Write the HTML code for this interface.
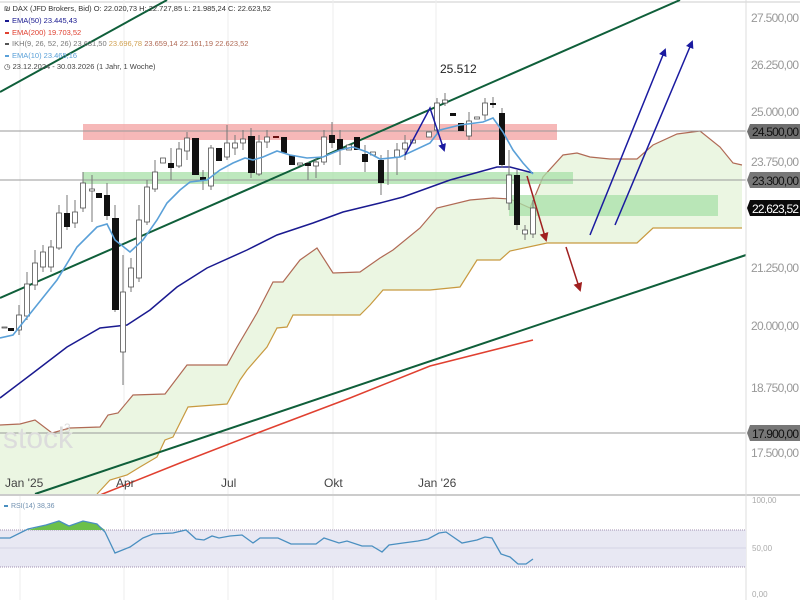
<!DOCTYPE html>
<html><head><meta charset="utf-8"><style>
html,body{margin:0;padding:0;background:#fff;}
svg{display:block;font-family:"Liberation Sans",sans-serif;}
</style></head><body>
<svg width="800" height="600" viewBox="0 0 800 600" xmlns="http://www.w3.org/2000/svg">
<defs>
<marker id="ab" markerWidth="8" markerHeight="8" refX="6" refY="4" orient="auto" markerUnits="userSpaceOnUse"><path d="M0,0 L8,4 L0,8 z" fill="#1a1aa0"/></marker>
<marker id="ar" markerWidth="9" markerHeight="9" refX="7" refY="4.5" orient="auto" markerUnits="userSpaceOnUse"><path d="M0,0 L9,4.5 L0,9 z" fill="#a02020"/></marker>
</defs>
<rect width="800" height="600" fill="#fff"/>
<line x1="0" y1="2" x2="800" y2="2" stroke="#ccc"/>
<g stroke="#eee" stroke-width="1">
<line x1="20" y1="0" x2="20" y2="600"/><line x1="124" y1="0" x2="124" y2="600"/><line x1="228" y1="0" x2="228" y2="600"/><line x1="333" y1="0" x2="333" y2="600"/><line x1="436" y1="0" x2="436" y2="600"/>
</g>
<!-- cloud -->
<path d="M0,425 L20,424 L35,420 L52,433 L70,428 L100,427 L108,415 L118,413 L133,395 L165,394 L187,365 L227,365 L237,347 L257,313 L273,282 L283,282 L300,260 L317,248 L333,273 L360,272 L380,258 L393,250 L420,228 L437,208 L470,200 L493,198 L510,199 L530,208 L543,177 L563,155 L577,153 L590,157 L610,159 L637,159 L653,145 L677,134 L700,131 L720,147 L733,163 L742,165 L742,228 L653,228 L637,243 L547,243 L510,251 L500,260 L477,260 L460,287 L430,290 L383,290 L370,305 L360,315 L293,315 L287,327 L277,328 L267,347 L247,370 L240,380 L227,404 L188,407 L173,437 L165,440 L157,457 L140,467 L127,475 L110,480 L97,494 L0,494 Z" fill="#ebf6e2"/>
<polyline fill="none" stroke="#b06a55" stroke-width="1.2" points="0,425 20,424 35,420 52,433 70,428 100,427 108,415 118,413 133,395 165,394 187,365 227,365 237,347 257,313 273,282 283,282 300,260 317,248 333,273 360,272 380,258 393,250 420,228 437,208 470,200 493,198 510,199 530,208 543,177 563,155 577,153 590,157 610,159 637,159 653,145 677,134 700,131 720,147 733,163 742,165"/>
<polyline fill="none" stroke="#c89a40" stroke-width="1.2" points="97,494 110,480 127,475 140,467 157,457 165,440 173,437 188,407 227,404 240,380 247,370 267,347 277,328 287,327 293,315 360,315 370,305 383,290 430,290 460,287 477,260 500,260 510,251 547,243 637,243 653,228 742,228"/>
<rect x="83" y="124" width="474" height="16" fill="#f4a6a6" opacity="0.8"/>
<rect x="83" y="172" width="490" height="12" fill="#a8e0a8" opacity="0.75"/>
<rect x="509" y="195" width="209" height="21" fill="#a8e0a8" opacity="0.75"/>
<g stroke="#999" stroke-width="1">
<line x1="0" y1="131" x2="746" y2="131"/><line x1="0" y1="180" x2="746" y2="180"/><line x1="0" y1="433" x2="746" y2="433"/>
</g>
<!-- watermark -->
<text x="3" y="448" font-size="30" fill="#dcdcdc">stock</text>
<text x="64" y="432" font-size="12" fill="#dcdcdc">3</text>
<g stroke="#0f5f3a" stroke-width="2">
<line x1="0" y1="92" x2="167" y2="0"/>
<line x1="0" y1="298" x2="680" y2="0"/>
<line x1="35" y1="494" x2="746" y2="255"/>
</g>
<polyline fill="none" stroke="#e04030" stroke-width="1.5" points="100,495 180,463 260,432 350,398 430,366 533,340"/>
<polyline fill="none" stroke="#1a1a90" stroke-width="1.5" points="0,398 33,373 67,347 100,328 127,325 150,310 177,287 207,268 247,250 277,235 313,223 343,212 380,203 403,197 450,180 497,167 510,167 533,173"/>
<g stroke="#777" stroke-width="1">
<line x1="19" y1="305" x2="19" y2="335"/><line x1="27" y1="272" x2="27" y2="320"/><line x1="35" y1="250" x2="35" y2="290"/><line x1="43" y1="245" x2="43" y2="272"/><line x1="51" y1="240" x2="51" y2="272"/><line x1="59" y1="205" x2="59" y2="250"/><line x1="67" y1="195" x2="67" y2="230"/><line x1="75" y1="200" x2="75" y2="228"/><line x1="83" y1="172" x2="83" y2="212"/><line x1="92" y1="175" x2="92" y2="222"/><line x1="107" y1="183" x2="107" y2="220"/><line x1="115" y1="205" x2="115" y2="312"/><line x1="123" y1="255" x2="123" y2="385"/><line x1="131" y1="258" x2="131" y2="292"/><line x1="139" y1="205" x2="139" y2="282"/><line x1="147" y1="180" x2="147" y2="225"/><line x1="155" y1="160" x2="155" y2="192"/><line x1="171" y1="148" x2="171" y2="180"/><line x1="179" y1="142" x2="179" y2="168"/><line x1="187" y1="132" x2="187" y2="160"/><line x1="203" y1="170" x2="203" y2="190"/><line x1="211" y1="145" x2="211" y2="190"/><line x1="227" y1="125" x2="227" y2="160"/><line x1="235" y1="135" x2="235" y2="155"/><line x1="243" y1="130" x2="243" y2="150"/><line x1="251" y1="128" x2="251" y2="178"/><line x1="259" y1="135" x2="259" y2="176"/><line x1="267" y1="130" x2="267" y2="148"/><line x1="308" y1="162" x2="308" y2="180"/><line x1="316" y1="158" x2="316" y2="178"/><line x1="324" y1="130" x2="324" y2="165"/><line x1="332" y1="122" x2="332" y2="148"/><line x1="340" y1="130" x2="340" y2="165"/><line x1="365" y1="145" x2="365" y2="172"/><line x1="381" y1="155" x2="381" y2="195"/><line x1="388" y1="150" x2="388" y2="185"/><line x1="397" y1="143" x2="397" y2="175"/><line x1="405" y1="135" x2="405" y2="160"/><line x1="437" y1="98" x2="437" y2="135"/><line x1="445" y1="93" x2="445" y2="106"/><line x1="469" y1="112" x2="469" y2="140"/><line x1="485" y1="98" x2="485" y2="120"/><line x1="493" y1="97" x2="493" y2="108"/><line x1="502" y1="108" x2="502" y2="168"/><line x1="509" y1="150" x2="509" y2="210"/><line x1="517" y1="170" x2="517" y2="230"/><line x1="525" y1="225" x2="525" y2="240"/><line x1="533" y1="200" x2="533" y2="238"/>
</g>
<g stroke="#555" stroke-width="0.8" fill="#fff">
<rect x="2" y="327" width="5" height="1"/>
<rect x="16.5" y="315" width="5" height="15"/><rect x="24.5" y="284" width="5" height="32"/><rect x="32.5" y="263" width="5" height="22"/><rect x="40.5" y="252" width="5" height="15"/><rect x="48.5" y="247" width="5" height="20"/><rect x="56.5" y="213" width="5" height="35"/><rect x="72.5" y="212" width="5" height="11"/><rect x="80.5" y="183" width="5" height="25"/><rect x="89.5" y="189" width="5" height="2"/><rect x="120.5" y="292" width="5" height="60"/><rect x="128.5" y="268" width="5" height="19"/><rect x="136.5" y="220" width="5" height="58"/><rect x="144.5" y="187" width="5" height="35"/><rect x="152.5" y="172" width="5" height="17"/><rect x="160.5" y="158" width="5" height="5"/><rect x="176.5" y="149" width="5" height="17"/><rect x="184.5" y="138" width="5" height="13"/><rect x="208.5" y="148" width="5" height="38"/><rect x="224.5" y="143" width="5" height="14"/><rect x="232.5" y="143" width="5" height="5"/><rect x="240.5" y="139" width="5" height="4"/><rect x="256.5" y="142" width="5" height="32"/><rect x="264.5" y="137" width="5" height="5"/><rect x="297.5" y="163" width="5" height="2"/><rect x="313.5" y="162" width="5" height="4"/><rect x="321.5" y="137" width="5" height="25"/><rect x="346.5" y="145" width="5" height="5"/><rect x="370.5" y="152" width="5" height="3"/><rect x="394.5" y="150" width="5" height="7"/><rect x="402.5" y="143" width="5" height="6"/><rect x="410.5" y="140" width="5" height="3"/><rect x="426.5" y="132" width="5" height="5"/><rect x="434.5" y="103" width="5" height="27"/><rect x="442.5" y="100" width="5" height="3"/><rect x="466.5" y="121" width="5" height="15"/><rect x="474.5" y="117" width="5" height="2"/><rect x="482.5" y="103" width="5" height="12"/><rect x="506.5" y="175" width="5" height="28"/><rect x="522.5" y="230" width="5" height="4"/><rect x="530.5" y="208" width="5" height="26"/>
</g>
<g fill="#111">
<rect x="8" y="328" width="6" height="3"/><rect x="64" y="213" width="6" height="14"/><rect x="96" y="193" width="6" height="5"/><rect x="104" y="195" width="6" height="21"/><rect x="112" y="218" width="7" height="92"/><rect x="168" y="163" width="6" height="5"/><rect x="192" y="138" width="7" height="37"/><rect x="200" y="177" width="6" height="3"/><rect x="216" y="148" width="6" height="13"/><rect x="248" y="136" width="7" height="37"/><rect x="273" y="136" width="6" height="2" fill="#6a1010"/><rect x="281" y="137" width="6" height="16"/><rect x="289" y="155" width="6" height="10"/><rect x="305" y="163" width="6" height="3"/><rect x="329" y="135" width="6" height="8"/><rect x="337" y="139" width="6" height="11"/><rect x="354" y="137" width="6" height="13"/><rect x="362" y="154" width="6" height="8"/><rect x="378" y="160" width="6" height="23"/><rect x="450" y="113" width="6" height="3"/><rect x="458" y="123" width="6" height="8"/><rect x="490" y="103" width="6" height="2"/><rect x="499" y="113" width="6" height="52"/><rect x="514" y="175" width="6" height="50"/>
</g>
<polyline fill="none" stroke="#5aa0d8" stroke-width="1.6" points="0,338 13,335 33,310 57,280 77,247 97,227 107,224 115,240 130,252 143,240 157,220 167,203 180,190 190,182 207,180 220,170 233,163 245,158 253,160 263,157 277,151 290,155 307,158 323,157 340,150 353,147 367,152 380,159 400,157 430,143 440,130 460,125 483,122 493,118 503,132 513,150 523,163 533,174"/>
<g fill="none" stroke="#1a1aa0" stroke-width="1.5">
<polyline points="405,155 430,108 444,150" marker-end="url(#ab)"/>
<line x1="590" y1="235" x2="665" y2="50" marker-end="url(#ab)"/>
<line x1="615" y1="225" x2="692" y2="42" marker-end="url(#ab)"/>
</g>
<g fill="none" stroke="#a02020" stroke-width="1.5">
<line x1="527" y1="176" x2="546" y2="240" marker-end="url(#ar)"/>
<line x1="566" y1="247" x2="580" y2="290" marker-end="url(#ar)"/>
</g>
<text x="440" y="73" font-size="12" fill="#222">25.512</text>
<g font-size="7.5" fill="#333">
<text x="4" y="11">₪ DAX (JFD Brokers, Bid)  O: 22.020,73  H: 22.727,85  L: 21.985,24  C: 22.623,52</text>
<rect x="5" y="20" width="4" height="2" fill="#1a1a90"/><text x="12" y="23" fill="#1a1a90">EMA(50)  23.445,43</text>
<rect x="5" y="32" width="4" height="2" fill="#e04030"/><text x="12" y="35" fill="#e04030">EMA(200)  19.703,52</text>
<rect x="5" y="43" width="4" height="2" fill="#555"/><text x="12" y="46" fill="#777">IKH(9, 26, 52, 26)  23.631,50  <tspan fill="#d0a050">23.696,78</tspan>  <tspan fill="#b06a55">23.659,14  22.161,19  22.623,52</tspan></text>
<rect x="5" y="55" width="4" height="2" fill="#5aa0d8"/><text x="12" y="58" fill="#5aa0d8">EMA(10)  23.465,16</text>
<text x="4" y="69" fill="#444">◷ 23.12.2024 - 30.03.2026  (1 Jahr, 1 Woche)</text>
</g>
<line x1="0" y1="495" x2="800" y2="495" stroke="#ccc" stroke-width="2"/>
<g font-size="12" fill="#444">
<text x="5" y="487">Jan '25</text><text x="116" y="487">Apr</text><text x="221" y="487">Jul</text><text x="324" y="487">Okt</text><text x="418" y="487">Jan '26</text>
</g>
<line x1="746" y1="0" x2="746" y2="600" stroke="#ddd"/>
<g font-size="12" fill="#999">
<text x="751" y="22" textLength="48">27.500,00</text>
<text x="751" y="69" textLength="48">26.250,00</text>
<text x="751" y="116" textLength="48">25.000,00</text>
<text x="751" y="166" textLength="48">23.750,00</text>
<text x="751" y="272" textLength="48">21.250,00</text>
<text x="751" y="330" textLength="48">20.000,00</text>
<text x="751" y="392" textLength="48">18.750,00</text>
<text x="751" y="457" textLength="48">17.500,00</text>
</g>
<path d="M750,124 L800,124 L800,139 L750,139 L747,131.5 Z" fill="#6e6e6e"/>
<text x="752" y="136" font-size="12" fill="#111" textLength="47">24.500,00</text>
<path d="M750,172 L800,172 L800,188 L750,188 L747,180 Z" fill="#777"/>
<text x="752" y="185" font-size="12" fill="#111" textLength="47">23.300,00</text>
<path d="M750,200 L800,200 L800,216 L750,216 L747,208 Z" fill="#0a0a0a"/>
<text x="752" y="213" font-size="12" fill="#fff" textLength="47">22.623,52</text>
<path d="M750,425 L800,425 L800,441 L750,441 L747,433 Z" fill="#777"/>
<text x="752" y="438" font-size="12" fill="#111" textLength="47">17.900,00</text>
<rect x="0" y="530" width="746" height="37" fill="#e8e8f3"/>
<line x1="0" y1="530" x2="746" y2="530" stroke="#a090b0" stroke-dasharray="1,1"/>
<line x1="0" y1="567" x2="746" y2="567" stroke="#a090b0" stroke-dasharray="1,1"/>
<line x1="0" y1="548" x2="746" y2="548" stroke="#d4d4e4"/>
<path d="M28,530 L46,525 L59,521 L69,526 L83,521 L97,524 L105,530 Z" fill="#6cc04a"/>
<polyline fill="none" stroke="#4a8fc0" stroke-width="1.3" points="0,538 10,538 28,529 46,525 59,521 69,526 83,521 97,524 105,532 115,553 130,547 143,538 153,534 173,533 186,530 196,539 204,540 212,536 219,538 230,536 242,535 253,543 260,538 278,538 291,544 304,544 316,544 324,538 339,543 347,541 362,546 372,546 382,552 389,545 403,543 418,541 428,539 439,533 446,532 462,543 477,540 485,537 492,538 501,554 510,557 518,564 526,564 533,559"/>
<rect x="4" y="505" width="4" height="2" fill="#4a8fc0"/>
<text x="11" y="508" font-size="7" fill="#7090b0">RSI(14)  38,36</text>
<g font-size="8" fill="#aaa">
<text x="752" y="503">100,00</text><text x="752" y="551">50,00</text><text x="752" y="597">0,00</text>
</g>
</svg>
</body></html>
